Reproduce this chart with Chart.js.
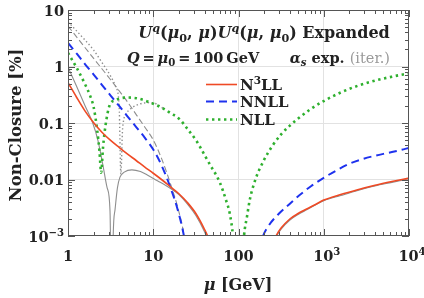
<!DOCTYPE html>
<html>
<head>
<meta charset="utf-8">
<script src="https://cdn.jsdelivr.net/npm/chart.js@4.4.1/dist/chart.umd.min.js"></script>
<style>
    html, body { margin: 0; padding: 0; background: #fff; }
</style>
</head>
<body>
<canvas id="closureChart" width="424" height="298"></canvas>
<script>
// ---- axis ticks ----
const xDecades = [1, 10, 100, 1000, 10000];
const xDecadeLabels = [['1'], ['10'], ['100'], ['10', '3'], ['10', '4']];
const yDecades = [0.001, 0.01, 0.1, 1, 10];
const yDecadeLabels = [['10', '\u22123'], ['0.01'], ['0.1'], ['1'], ['10']];

// ---- N3LL (red, solid) ----
const n3llMu  = [1, 1.26, 1.58, 2, 2.5, 3.16, 4, 5, 6.3, 7.9, 10, 12.6, 15.8, 20, 25, 31.6, 40, 45, 50, 70, 126, 224, 275, 316, 400, 500, 630, 800, 1000, 1580, 2500, 4000, 6300, 10000];
const n3llVal = [0.52, 0.286, 0.164, 0.101, 0.0685, 0.0491, 0.0368, 0.0282, 0.0217, 0.0167, 0.0129, 0.0099, 0.0075, 0.0056, 0.00395, 0.0025, 0.0013, 0.00087, 0.0005, 0.0001, 0.00001, 0.0005, 0.001, 0.00138, 0.002, 0.0025, 0.003, 0.0036, 0.00432, 0.00543, 0.0066, 0.0079, 0.0092, 0.0106];

// ---- NNLL (blue, dashed) ----
const nnllMu  = [1, 1.26, 1.58, 2, 2.51, 3.16, 3.98, 5.01, 6.31, 7.94, 10, 12.6, 15.8, 19.5, 22.9, 26.3, 39.8, 100, 158, 194, 224, 299, 398, 513, 708, 1000, 1413, 1995, 2818, 3981, 5623, 7943, 10000];
const nnllVal = [2.61, 1.7, 1.107, 0.721, 0.47, 0.306, 0.2, 0.13, 0.0847, 0.0552, 0.0339, 0.0174, 0.0074, 0.0028, 0.001, 0.00025, 0.00001, 0.00001, 0.00032, 0.001, 0.0015, 0.0025, 0.0037, 0.0052, 0.0076, 0.0107, 0.0145, 0.019, 0.0229, 0.0263, 0.0295, 0.0331, 0.0363];

// ---- NLL (green, dotted) ----
const nllMu  = [1, 1.26, 1.58, 1.82, 2, 2.19, 2.34, 2.45, 2.57, 2.75, 3.09, 3.55, 4.17, 5.01, 6.31, 7.94, 10, 13, 15.8, 20.6, 25.1, 31.6, 35.3, 44.7, 60.3, 70.8, 79.4, 86.1, 93.3, 100, 108, 116, 126, 136, 158, 200, 251, 316, 398, 501, 708, 1000, 1585, 2512, 3981, 6310, 10000];
const nllVal = [1.74, 0.955, 0.49, 0.302, 0.19, 0.079, 0.0316, 0.0132, 0.0355, 0.089, 0.209, 0.251, 0.275, 0.282, 0.275, 0.251, 0.219, 0.182, 0.151, 0.115, 0.079, 0.05, 0.038, 0.02, 0.0089, 0.00447, 0.0024, 0.001, 0.0002, 0.00001, 0.0002, 0.001, 0.00224, 0.00447, 0.01, 0.0224, 0.0398, 0.0631, 0.0891, 0.12, 0.178, 0.245, 0.347, 0.457, 0.562, 0.661, 0.759];

// ---- iterative alpha_s variants (gray) ----
const iterN3llMu  = [1, 1.26, 1.58, 1.95, 2.24, 2.57, 2.88, 3.11, 3.28, 3.39, 3.56, 3.8, 4.07, 4.57, 5.62, 7.08, 8.51, 11.2, 14.5, 17.8, 20, 25.1, 31.6, 39.8, 44.7, 50.1, 70.8, 126, 224, 275, 316, 398, 501, 631, 1000, 1585, 2512, 3981, 6310, 10000];
const iterN3llVal = [0.977, 0.447, 0.204, 0.1, 0.05, 0.0178, 0.0071, 0.0028, 0.00001, 0.001, 0.0029, 0.0071, 0.011, 0.0135, 0.0148, 0.0138, 0.012, 0.0095, 0.0076, 0.0062, 0.0054, 0.0037, 0.0023, 0.0012, 0.00079, 0.00045, 0.0001, 0.00001, 0.00048, 0.00095, 0.00132, 0.0019, 0.0024, 0.0029, 0.0042, 0.0052, 0.0064, 0.0077, 0.0089, 0.0103];
const iterNnllMu  = [1, 1.58, 2.51, 3.16, 3.98, 5.01, 6.31, 7.94, 10, 12.6, 15.8, 19.5, 22.9, 26.3, 39.8];
const iterNnllVal = [5.2, 2.17, 0.904, 0.583, 0.372, 0.234, 0.141, 0.0851, 0.0501, 0.0229, 0.0087, 0.0031, 0.00107, 0.00025, 0.00001];
const iterNllMu  = [1, 1.26, 1.58, 2, 2.51, 3.16, 3.63, 3.98, 4.17, 4.37, 4.9, 5.75, 7.08, 8.91, 11.2, 13];
const iterNllVal = [6.17, 4.27, 2.95, 1.95, 1.17, 0.676, 0.437, 0.2, 0.0126, 0.079, 0.151, 0.19, 0.219, 0.229, 0.214, 0.182];

const serif = '"DejaVu Serif", "Liberation Serif", serif';
const textCol = '#222222';
const frameCol = '#555555';
const thin = '\u2009';

const pts = (mu, val) => mu.map((m, i) => ({ x: m, y: val[i] }));
const isDecade = v => Math.abs(Math.log10(v) - Math.round(Math.log10(v))) < 1e-9;

function minorTicks(lo, hi) {
    const out = [];
    for (let d = lo; d < hi * 1.0001; d *= 10) {
        for (let k = 1; k <= 9; k++) {
            const v = d * k;
            if (v <= hi * 1.0001) out.push(v);
        }
    }
    return out;
}

function makeFont(bold, italic, size) {
    return (italic ? 'italic ' : '') + (bold ? 'bold ' : '') + size + 'px ' + serif;
}

// parts: [text, flags]  flags: i = italic, ^ = superscript, _ = subscript, n = normal weight, g = gray
function drawRich(ctx, parts, x, y, size, align) {
    const segs = parts.map(([t, f = '']) => {
        const small = f.includes('^') || f.includes('_');
        const fnt = makeFont(!f.includes('n'), f.includes('i'), small ? size * 0.7 : size);
        ctx.font = fnt;
        return {
            t: t, fnt: fnt, w: ctx.measureText(t).width,
            dy: f.includes('^') ? -size * 0.4 : (f.includes('_') ? size * 0.22 : 0),
            col: f.includes('g') ? '#9a9a9a' : textCol
        };
    });
    const total = segs.reduce((a, s) => a + s.w, 0);
    let cx = align === 'right' ? x - total : (align === 'center' ? x - total / 2 : x);
    ctx.textAlign = 'left';
    ctx.textBaseline = 'alphabetic';
    segs.forEach(s => {
        ctx.font = s.fnt;
        ctx.fillStyle = s.col;
        ctx.fillText(s.t, cx, y + s.dy);
        cx += s.w;
    });
    return total;
}

// frame, inward ticks, tick labels, titles and legend
const decorPlugin = {
    id: 'decor',
    afterDraw(chart) {
        const { ctx, chartArea: a, scales } = chart;
        const xs = scales.x, ys = scales.y;
        ctx.save();

        // frame
        ctx.strokeStyle = frameCol;
        ctx.lineWidth = 1;
        ctx.strokeRect(a.left + 0.5, a.top + 0.5, a.right - a.left - 1, a.bottom - a.top - 1);

        // ticks on all four sides
        ctx.beginPath();
        minorTicks(1, 10000).forEach(v => {
            const px = Math.round(xs.getPixelForValue(v)) + 0.5;
            const len = isDecade(v) ? 7 : 4;
            ctx.moveTo(px, a.bottom); ctx.lineTo(px, a.bottom - len);
            ctx.moveTo(px, a.top); ctx.lineTo(px, a.top + len);
        });
        minorTicks(0.001, 10).forEach(v => {
            const py = Math.round(ys.getPixelForValue(v)) + 0.5;
            const len = isDecade(v) ? 7 : 4;
            ctx.moveTo(a.left, py); ctx.lineTo(a.left + len, py);
            ctx.moveTo(a.right, py); ctx.lineTo(a.right - len, py);
        });
        ctx.stroke();

        // tick labels
        xDecades.forEach((v, i) => {
            const lab = xDecadeLabels[i];
            const parts = [[lab[0]]];
            if (lab[1]) parts.push([lab[1], '^']);
            drawRich(ctx, parts, xs.getPixelForValue(v) + (lab[1] ? 3 : 0), 261, 14.5, 'center');
        });
        yDecades.forEach((v, i) => {
            const lab = yDecadeLabels[i];
            const parts = [[lab[0]]];
            if (lab[1]) parts.push([lab[1], '^']);
            drawRich(ctx, parts, 64, ys.getPixelForValue(v) + 5.5, 14.5, 'right');
        });

        // axis titles
        drawRich(ctx, [['\u03bc', 'i'], [' [GeV]']], 238, 290, 16, 'center');
        ctx.save();
        ctx.translate(21, 125);
        ctx.rotate(-Math.PI / 2);
        drawRich(ctx, [['Non-Closure [%]']], 0, 0, 16.5, 'center');
        ctx.restore();

        // in-plot annotations
        drawRich(ctx, [
            ['U', 'i'], ['q', 'i^'], ['('], ['\u03bc', 'i'], ['0', '_'], [', '], ['\u03bc', 'i'], [')'],
            ['U', 'i'], ['q', 'i^'], ['('], ['\u03bc', 'i'], [', '], ['\u03bc', 'i'], ['0', '_'], [')'],
            [' Expanded']
        ], 264, 38, 16, 'center');
        drawRich(ctx, [['Q', 'i'], [thin + '=' + thin], ['\u03bc', 'i'], ['0', '_'], [thin + '=' + thin + '100' + thin + 'GeV']], 127, 63, 14.5, 'left');
        drawRich(ctx, [['\u03b1', 'i'], ['s', 'i_'], [' exp. '], ['(iter.)', 'ng']], 390, 63, 14.5, 'right');

        // legend
        const legend = [
            { idx: 0, parts: [['N'], ['3', '^'], ['LL']], y: 84 },
            { idx: 1, parts: [['NNLL']], y: 101 },
            { idx: 2, parts: [['NLL']], y: 119 }
        ];
        legend.forEach(e => {
            const ds = chart.data.datasets[e.idx];
            ctx.save();
            ctx.strokeStyle = ds.borderColor;
            ctx.lineWidth = ds.borderWidth;
            ctx.setLineDash(ds.borderDash || []);
            ctx.beginPath();
            ctx.moveTo(206, e.y + 0.5);
            ctx.lineTo(237, e.y + 0.5);
            ctx.stroke();
            ctx.restore();
            drawRich(ctx, e.parts, 240, e.y + 6, 15, 'left');
        });

        ctx.restore();
    }
};

const lineBase = {
    pointRadius: 0,
    fill: false,
    cubicInterpolationMode: 'monotone',
    spanGaps: true
};

new Chart(document.getElementById('closureChart').getContext('2d'), {
    type: 'line',
    data: {
        datasets: [
            { ...lineBase, label: 'N3LL', data: pts(n3llMu, n3llVal), borderColor: '#ef4a25', borderWidth: 1.6 },
            { ...lineBase, label: 'NNLL', data: pts(nnllMu, nnllVal), borderColor: '#1e32ee', borderWidth: 2, borderDash: [8, 5] },
            { ...lineBase, label: 'NLL', data: pts(nllMu, nllVal), borderColor: '#2eb02e', borderWidth: 2.6, borderDash: [2.4, 3.6] },
            { ...lineBase, label: 'N3LL iter.', data: pts(iterN3llMu, iterN3llVal), borderColor: '#8e8e8e', borderWidth: 1.1 },
            { ...lineBase, label: 'NNLL iter.', data: pts(iterNnllMu, iterNnllVal), borderColor: '#8e8e8e', borderWidth: 1.1, borderDash: [6, 3] },
            { ...lineBase, label: 'NLL iter.', data: pts(iterNllMu, iterNllVal), borderColor: '#8e8e8e', borderWidth: 1.4, borderDash: [1.4, 2.4] }
        ]
    },
    options: {
        responsive: false,
        animation: false,
        layout: { padding: { left: 0, top: 10, right: 15, bottom: 0 } },
        plugins: { legend: { display: false }, tooltip: { enabled: false } },
        scales: {
            x: {
                type: 'logarithmic',
                min: 1, max: 10000,
                afterBuildTicks: s => { s.ticks = xDecades.map(v => ({ value: v })); },
                afterFit: s => { s.height = 62; },
                ticks: { display: false },
                border: { display: false },
                grid: {
                    drawTicks: false,
                    color: c => (c.tick && c.tick.value > 1 && c.tick.value < 10000) ? '#e2e2e2' : 'rgba(0,0,0,0)'
                }
            },
            y: {
                type: 'logarithmic',
                min: 0.001, max: 10,
                afterBuildTicks: s => { s.ticks = yDecades.map(v => ({ value: v })); },
                afterFit: s => { s.width = 68; },
                ticks: { display: false },
                border: { display: false },
                grid: {
                    drawTicks: false,
                    color: c => (c.tick && c.tick.value > 0.001 && c.tick.value < 10) ? '#e2e2e2' : 'rgba(0,0,0,0)'
                }
            }
        }
    },
    plugins: [decorPlugin]
});
</script>
</body>
</html>
